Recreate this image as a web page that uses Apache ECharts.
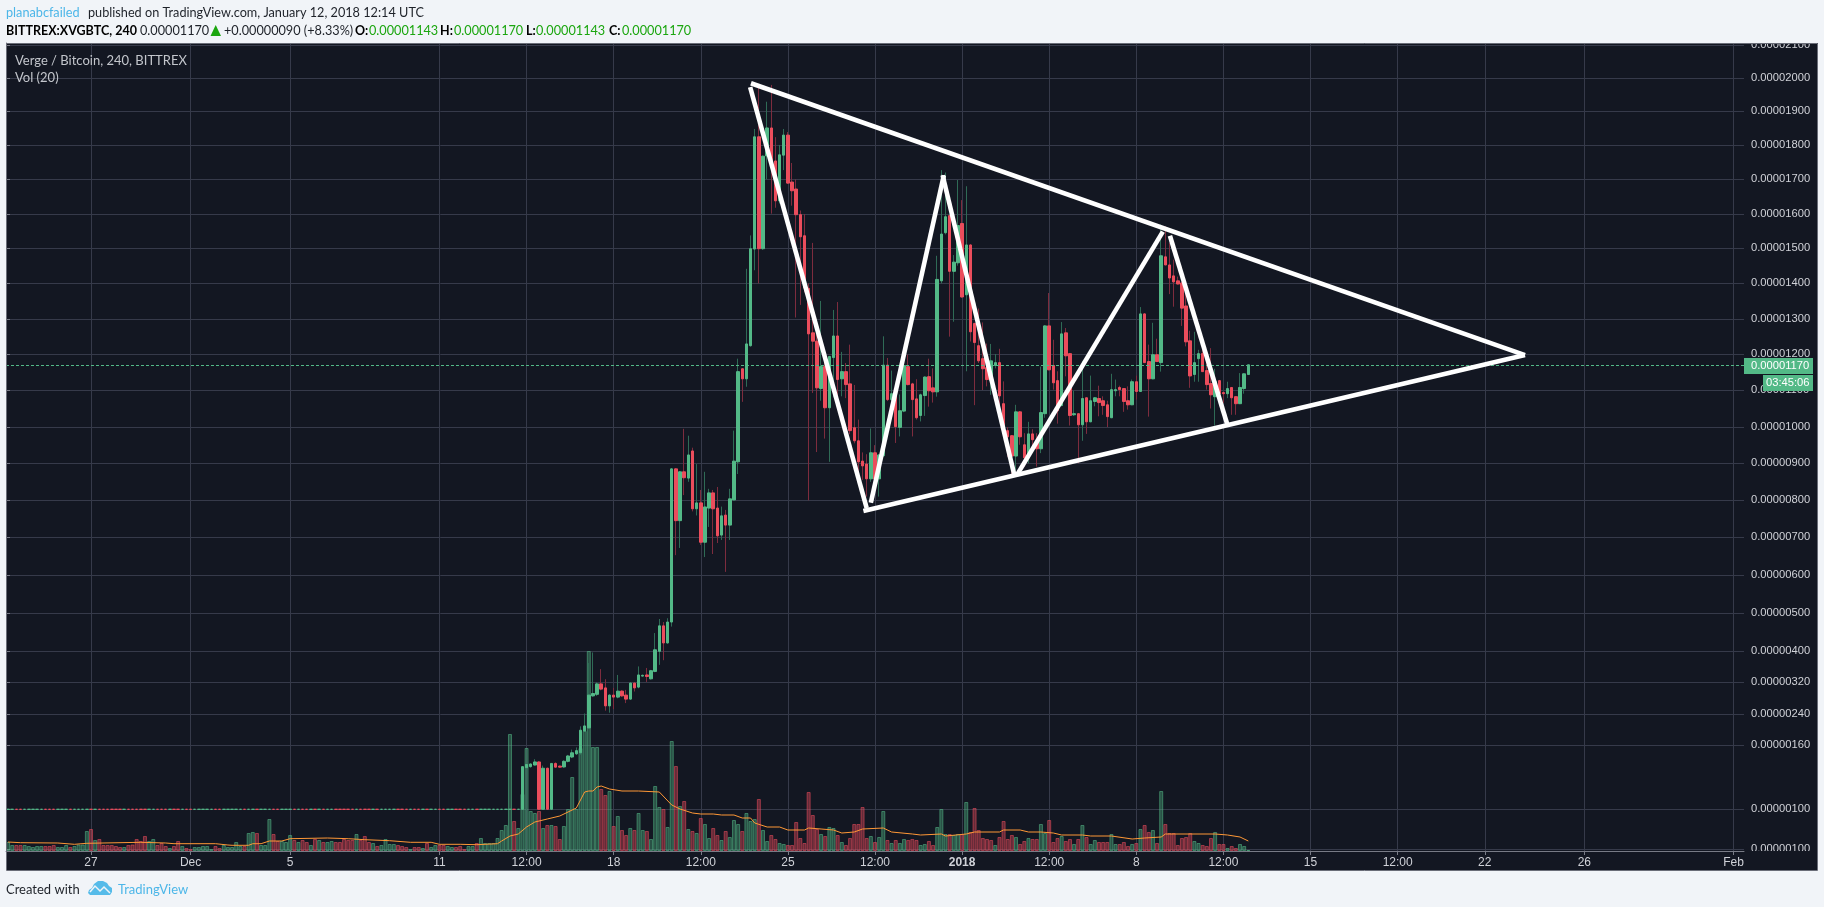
<!DOCTYPE html>
<html><head><meta charset="utf-8"><style>html,body{margin:0;padding:0;background:#f1f4f8}#c{width:1824px;height:907px}</style>
<script src="https://cdn.jsdelivr.net/npm/echarts@6/dist/echarts.min.js"></script></head>
<body><div id="c"></div>
<script>
// price values are in satoshi (1e-8 BTC)
const opens=[100,100,100,100,100,100,100,100,100,100,100,100,100,100,100,100,100,100,100,100,100,100,100,100,100,100,100,100,100,100,100,100,100,100,100,100,100,100,100,100,100,100,100,100,100,100,100,100,100,100,100,100,100,100,100,100,100,100,100,100,100,100,100,100,100,100,100,100,100,100,100,100,100,100,100,100,100,100,100,100,100,100,100,100,100,100,100,100,100,100,100,100,100,100,100,100,100,100,100,100,100,100,100,100,100,100,100,100,100,100,100,100,100,100,100,100,100,100,100,100,100,100,100,100,
100,139,140,141.5,144.4,100,138.5,100,143,140.5,139.7,145,149,152,153,197,205,286,290,316,306,261,288,283,298,288,278,318,308,336,339,329,348,400,467,422,477,885,745,877,860,934,777,793,687,779,820,779,706,760,733,801,904,1159,1131,1224,1497,1825,1498,1769,1851,1754,1638,1771,1830,1692,1672,1598,1536,1386,1261,1237,1104,1165,1052,1190,1252,1131,1151,1117,998,962,906,898,858,929,858,921,1169,1074,1087,999,1043,1165,1117,1076,1031,1085,1137,1106,1095,1407,1545,1595,1434,1458,1572,1368,1509,1288,1224,1187,1162,1127,1168,1176,1063,990,976,920,1041,951,915,981,962,940,1036,1281,1168,1126,1058,1261,1201,1033,1036,1006,1079,1014,1069,1077,1071,1060,1025,1098,1107,1104,1071,1060,1123,1096,1315,1179,1131,1198,1176,1475,1452,1421,1407,1401,1337,1238,1143,1187,1201,1154,1118,1082,1126,1093,1090,1107,1082,1063,1104,1143];
const highs=[100,100,100,100,100,100,100,100,100,100,100,100,100,100,100,100,100,100,100,100,100,100,100,100,100,100,100,100,100,100,100,100,100,100,100,100,100,100,100,100,100,100,100,100,100,100,100,100,100,100,100,100,100,100,100,100,100,100,100,100,100,100,100,100,100,100,100,100,100,100,100,100,100,100,100,100,100,100,100,100,100,100,100,100,100,100,100,100,100,100,100,100,100,100,100,100,100,100,100,100,100,100,100,100,100,100,100,100,100,100,100,100,100,100,100,100,100,100,100,100,100,100,100,100,
140,143,143,147,145,141,139,143,144,141,146,151,156,158,209,242,370,397,320,354,328,290,306,339,300,301,320,320,361,340,357,352,448,485,477,487,887,887,879,995,976,943,898,828,877,831,828,836,783,774,831,990,1187,1160,1441,1537,1848,1983,1770,1929,1980,1824,1801,1848,1839,1748,1700,1610,1600,1400,1515,1270,1351,1210,1195,1326,1348,1206,1175,1227,1114,1020,930,925,996,950,925,1251,1189,1154,1090,1088,1184,1198,1120,1130,1090,1138,1187,1160,1478,1727,1720,1597,1480,1698,1640,1680,1511,1290,1330,1291,1230,1229,1200,1215,1124,1000,978,1060,1043,983,1014,994,983,1165,1283,1373,1241,1152,1292,1275,1203,1098,1037,1181,1080,1140,1081,1112,1083,1071,1145,1129,1112,1105,1110,1129,1140,1334,1317,1227,1290,1244,1569,1564,1515,1467,1419,1405,1381,1267,1264,1212,1227,1198,1217,1159,1128,1096,1123,1108,1083,1147,1146,1170];
const lows=[100,100,100,100,100,100,100,100,100,100,100,100,100,100,100,100,100,100,100,100,100,100,100,100,100,100,100,100,100,100,100,100,100,100,100,100,100,100,100,100,100,100,100,100,100,100,100,100,100,100,100,100,100,100,100,100,100,100,100,100,100,100,100,100,100,100,100,100,100,100,100,100,100,100,100,100,100,100,100,100,100,100,100,100,100,100,100,100,100,100,100,100,100,100,100,100,100,100,100,100,100,100,100,100,100,100,100,100,100,100,100,100,100,100,100,100,100,100,100,100,100,100,100,100,
100,138,139,141,100,100,100,100,139,139,139,144,148,151,151,195,203,284,286,300,249,244,253,280,284,268,276,297,305,335,321,327,346,365,377,420,465,653,672,814,850,770,759,680,648,728,656,685,693,609,693,800,871,1068,1109,1221,1437,1400,1495,1700,1601,1618,1630,1727,1687,1624,1305,1340,1375,800,1092,931,1071,968,904,1080,1075,1083,1078,980,955,864,855,810,850,842,810,918,1070,1070,956,974,1040,1113,974,1020,1015,1030,1055,1066,1082,1400,1540,1250,1293,1450,1360,1152,1236,1059,1175,1100,1110,1087,1160,1059,980,918,868,880,951,891,900,942,891,928,1025,1155,1101,1009,1056,1138,1004,1030,900,962,981,1013,1056,1029,1033,1000,1024,1083,1083,1041,1047,1059,1074,1095,1175,1028,1130,1178,1151,1451,1370,1335,1397,1281,1222,1106,1123,1123,1150,1101,1050,1004,1056,1065,1078,1033,1033,1062,1090,1143];
const closes=[100,100,100,100,100,100,100,100,100,100,100,100,100,100,100,100,100,100,100,100,100,100,100,100,100,100,100,100,100,100,100,100,100,100,100,100,100,100,100,100,100,100,100,100,100,100,100,100,100,100,100,100,100,100,100,100,100,100,100,100,100,100,100,100,100,100,100,100,100,100,100,100,100,100,100,100,100,100,100,100,100,100,100,100,100,100,100,100,100,100,100,100,100,100,100,100,100,100,100,100,100,100,100,100,100,100,100,100,100,100,100,100,100,100,100,100,100,100,100,100,100,100,100,100,
140,142,142.5,144.4,100,138.5,100,143,139.5,139.5,145,150,153,155,199,210,288,292,316,303,261,288,283,298,286,278,318,306,339,338,335,350,404,467,422,477,885,745,877,861,923,777,793,687,782,820,777,704,758,733,804,906,1151,1131,1229,1498,1825,1498,1768,1851,1748,1638,1772,1830,1689,1667,1598,1533,1387,1258,1237,1106,1165,1052,1193,1252,1129,1151,1115,990,962,904,893,858,929,858,923,1169,1074,1090,1001,1044,1168,1115,1074,1025,1087,1136,1098,1095,1411,1541,1592,1434,1460,1566,1362,1509,1264,1233,1181,1159,1129,1181,1176,1084,988,973,920,1041,973,915,981,965,940,1039,1281,1156,1120,1044,1258,1195,1031,1036,1006,1077,1014,1071,1079,1066,1058,1028,1101,1101,1101,1069,1060,1123,1096,1315,1176,1131,1198,1179,1478,1452,1415,1404,1398,1331,1235,1139,1176,1201,1151,1115,1087,1123,1090,1090,1104,1079,1063,1107,1145,1170];
const volumes=[9,6,6,6,6,5,4,5,5,5,5,6,4,4,6,4,5,6.5,6.5,20,22,11,12,6,6,6,5,4,4,6,6.5,12,10,15,10,12,6,8,5,3,5,10,5,3,2,4,4,5,5,2,5,3,6,4,4,9,5,5,18,19,18,6,6,32,17,10,10,9,16,11,9,11,9,6,12,11,9,9,10,9,9,12,11,11,17,11,15,9,8,5,6,12,7,7,6,5,4,2,4,4,3,8,4,6,6,6,5,4,4,5,2,5,5,8,13,8,8,8,13,21,26,117,30,23,57,103,40,38,40,23,26,26,25,12,25,42,74,42,103,120,200,104,104,62,56,60,25,35,21,16,23,21,38,21,20,12,65,44,42,24,110,85,45,50,22,20,18,33,27,13,23,16,11,20,14,31,27,20,38,30,32,52,21,10,16,12,8,7,6,6,29,13,8,59,36,22,17,15,24,23,16,9,6,13,27,27,44,13,15,9,14,40,11,8,11,8,12,11,12,11,6,7,10,6,24,42,17,17,16,17,17,49,19,43,21,13,12,11,6,14,30,12,16,14,7,10,13,12,12,27,18,31,9,13,15,10,12,7,12,26,14,7,11,9,9,9,17,7,7,9,5,7,8,22,26,19,21,8,60,27,18,18,6,13,14,18,10,8,6,5,13,19,7,7,3,5,3,7,5,1];
const volumeDirs=('ggrrgggggr'+'rrgggrgggg'+'rgrrrrrrgr'+'rrrrggrrrg'+'rrgrrggggg'+'rrgggggrgg'+'rgggrrgggr'+'grrgrgrggr'+'rrrrgrrrgr'+'ggggrrrgrr'+'grggrrggrr'+'rggrgggggg'+'ggrgggggrg'+'rgrrgggggg'+'gggrrgrgrr'+'grggrgggrg'+'grgrgrgrgg'+'rrgrgggrgg'+'grggrrggrr'+'rrrrrrgrgg'+'rgrrrrrrgr'+'ggrgrggrrr'+'ggrrgggrgg'+'rgrrrrrrgr'+'rrrgrrgrrg'+'grrrgrrgrg'+'rggrrrggrr'+'rgrgrrgrgr'+'rrrrrrggrr'+'rgrrgrrggg').split('');
// 20-period volume average at these candle indices
const maIndex=[0,3,12,16,19,32,38,40,50,53,54,58,59,61,63,66,68,77,82,86,92,97,102,104,109,113,118,119,121,123,125,127,130,133,135,137,139,140,141,142,143,145,148,152,157,160,162,165,167,170,172,175,177,179,180,183,186,188,192,193,196,199,201,204,206,211,213,218,220,225,226,231,233,239,240,244,246,249,252,254,259,261,266,271,274,278,279,291,294,297,299];
const maValues=[9,8.3,8,6.7,7.7,8.7,8,7.3,7.3,6,5.7,5.7,7.3,7.3,10,10,12.3,13,12.3,11.3,10.3,8.7,8.7,6.7,6.7,6.3,7.3,10,15,17,24,29,32,35,39,43,59,60,60,64,65,62,60,60,59,46,42,38,37,37,36,36,33,33,28,24,24,21,21,23,22,21,18,19,22,23,19,17,16,17,15,17,19,19,21,21,19,19,18,16,16,15,15,12,13,14,17,17,16,14,10];
const tickPrices=[99,100,160,240,320,400,500,600,700,800,900,1000,1100,1200,1300,1400,1500,1600,1700,1800,1900,2000,2100];
const tickUnits=[1.7,41.7,105.7,136.7,168.7,199.7,237.7,275.7,313.7,350.7,387.7,424,461,497,531.7,567.7,603,637,671.7,705.7,739.7,772.7,806];
const tickLabels=['0.00000100','0.00000100','0.00000160','0.00000240','0.00000320','0.00000400','0.00000500','0.00000600','0.00000700','0.00000800','0.00000900','0.00001000','0.00001100','0.00001200','0.00001300','0.00001400','0.00001500','0.00001600','0.00001700','0.00001800','0.00001900','0.00002000','0.00002100'];
const timeTicks={'2017-11-27 00:00':'27','2017-12-01 00:00':'Dec','2017-12-05 00:00':'5','2017-12-11 00:00':'11','2017-12-14 12:00':'12:00','2017-12-18 00:00':'18','2017-12-21 12:00':'12:00','2017-12-25 00:00':'25','2017-12-28 12:00':'12:00','2018-01-01 00:00':'2018','2018-01-04 12:00':'12:00','2018-01-08 00:00':'8','2018-01-11 12:00':'12:00','2018-01-15 00:00':'15','2018-01-18 12:00':'12:00','2018-01-22 00:00':'22','2018-01-26 00:00':'26','2018-02-01 00:00':'Feb'};
// drawn trend lines: [candle slot, price] pairs
const upperLine=[[179.6,1985],[366.2,1197]];
const lowerLine=[[206.7,771],[366.2,1197]];
const legDown1=[[179.4,1973],[207.5,779]];
const legUp1=[[208.5,793.5],[226.1,1712]];
const legDown2=[[225.8,1712],[243.1,868]];
const legUp2=[[243.7,868],[278.9,1548]];
const legDown3=[[280.6,1536],[294.4,1008]];
const lastPrice=1170;

const SLOTS=419, startMs=Date.UTC(2017,10,23,16);
const pad=n=>String(n).padStart(2,'0');
const categories=Array.from({length:SLOTS},(_,i)=>{const d=new Date(startMs+i*4*3600e3);
  return d.getUTCFullYear()+'-'+pad(d.getUTCMonth()+1)+'-'+pad(d.getUTCDate())+' '+pad(d.getUTCHours())+':00';});
function toUnit(p){for(let k=1;k<tickPrices.length;k++){if(p<=tickPrices[k]){const a=tickPrices[k-1],b=tickPrices[k];
  return tickUnits[k-1]+(p-a)/(b-a)*(tickUnits[k]-tickUnits[k-1]);}}return tickUnits[tickUnits.length-1];}

const GREEN='#53b987',RED='#eb4d5c',WG='#2f6b56',WR='#7d2c3e';
const dir=i=>closes[i]>opens[i]?'g':closes[i]<opens[i]?'r':volumeDirs[i];
const sty=c=>({color:c,color0:c,borderColor:c,borderColor0:c,borderColorDoji:c,borderWidth:1});
const wickData=opens.map((o,i)=>({value:[toUnit(o),toUnit(closes[i]),toUnit(lows[i]),toUnit(highs[i])],itemStyle:sty(dir(i)==='g'?WG:WR)}));
const bodyData=opens.map((o,i)=>{const a=toUnit(o),b=toUnit(closes[i]);return {value:[a,b,Math.min(a,b),Math.max(a,b)],itemStyle:sty(dir(i)==='g'?GREEN:RED)};});
const volData=volumes.map((v,i)=>({value:v,itemStyle:volumeDirs[i]==='g'
  ?{color:'rgba(83,185,135,0.36)',borderColor:'rgba(83,185,135,0.55)',borderWidth:1}
  :{color:'rgba(235,77,92,0.38)',borderColor:'rgba(235,77,92,0.55)',borderWidth:1}}));

const trendSeries=[upperLine,lowerLine,legDown1,legUp1,legDown2,legUp2,legDown3].map(seg=>({type:'line',xAxisIndex:1,yAxisIndex:0,
  data:seg.map(p=>[p[0],toUnit(p[1])]),showSymbol:false,symbol:'none',silent:true,z:20,lineStyle:{color:'#ffffff',width:4.6,cap:'butt'}}));

const F='"Liberation Sans",Arial,sans-serif', H='Lato,"Noto Sans",sans-serif';
const txt=(x,y,text,fill,size,weight,font)=>({type:'text',z:100,style:{x,y,text,fill,font:(weight||'normal')+' '+size+'px '+(font||H),textVerticalAlign:'middle'}});
const gridC='#363a4a', AXT='#d0d2d8';
const labelByUnit={};tickUnits.forEach((u,i)=>labelByUnit[u]=tickLabels[i]);

const chart=echarts.init(document.getElementById('c'),null,{renderer:'canvas'});
chart.setOption({animation:false,backgroundColor:'#f1f4f8',
 grid:{left:6,top:43,width:1738,height:808,containLabel:false},
 xAxis:[{type:'category',data:categories,boundaryGap:true,
   axisLine:{show:true,lineStyle:{color:'#787b86'}},
   axisTick:{show:true,alignWithLabel:true,length:4,lineStyle:{color:'#787b86'},interval:(i,v)=>!!timeTicks[v]},
   splitLine:{show:true,alignWithLabel:true,lineStyle:{color:gridC,width:1},interval:(i,v)=>!!timeTicks[v]},
   axisLabel:{show:true,interval:(i,v)=>!!timeTicks[v],margin:6,fontFamily:F,fontSize:12,color:AXT,formatter:v=>v&&timeTicks[v]==='2018'?'{b|2018}':(timeTicks[v]||''),rich:{b:{fontWeight:'bold',fontFamily:F,fontSize:12,color:AXT}},hideOverlap:false}},
  {type:'value',min:0,max:SLOTS,show:false,splitLine:{show:false}}],
 yAxis:[{type:'value',position:'right',min:0,max:808,scale:false,
   axisLine:{show:true,lineStyle:{color:'#787b86'}},
   axisTick:{show:true,length:4,lineStyle:{color:'#787b86'},customValues:tickUnits},
   splitLine:{show:true,lineStyle:{color:gridC,width:1}},
   axisLabel:{show:true,margin:7,customValues:tickUnits,fontFamily:F,fontSize:11.2,color:AXT,formatter:v=>labelByUnit[v]||'',showMinLabel:true,showMaxLabel:true}},
  {type:'value',min:0,max:808,show:false,splitLine:{show:false}}],
 series:[
  {type:'bar',name:'Volume',xAxisIndex:0,yAxisIndex:1,data:volData,barWidth:4,z:2,silent:true},
  {type:'candlestick',name:'Wicks',xAxisIndex:0,yAxisIndex:0,data:wickData,barWidth:1,z:3,silent:true,
   markLine:{silent:true,symbol:'none',animation:false,label:{show:false},lineStyle:{color:GREEN,type:[3,2],width:1},data:[{yAxis:toUnit(lastPrice)}]}},
  {type:'candlestick',name:'Bodies',xAxisIndex:0,yAxisIndex:0,data:bodyData,barWidth:3,z:4,silent:true},
  {type:'line',name:'Vol MA 20',xAxisIndex:1,yAxisIndex:1,data:maIndex.map((ix,k)=>[ix+0.5,maValues[k]]),showSymbol:false,symbol:'none',silent:true,z:5,lineStyle:{color:'#ff9836',width:1}},
  ...trendSeries],
 graphic:{elements:[
  {type:'rect',z:-1,silent:true,shape:{x:6,y:43,width:1812,height:827},style:{fill:'#131722'}},
  {type:'rect',z:99,silent:true,shape:{x:1746,y:30,width:70,height:13},style:{fill:'#f1f4f8'}},
  {type:'rect',z:99,silent:true,shape:{x:1746,y:851,width:70,height:18},style:{fill:'#131722'}},
  {type:'rect',z:100,silent:true,shape:{x:6.5,y:43.5,width:1811,height:827},style:{fill:'none',stroke:'#6a6d78',lineWidth:1}},
  {type:'rect',z:100,silent:true,shape:{x:1744,y:358,width:69,height:16},style:{fill:GREEN}},
  {type:'rect',z:100,silent:true,shape:{x:1763,y:375,width:50,height:16},style:{fill:GREEN}},
  {type:'text',z:101,style:{x:1751,y:366,text:'0.00001170',fill:'#fff',font:'normal 11.2px '+F,textVerticalAlign:'middle'}},
  {type:'text',z:101,style:{x:1766,y:383,text:'03:45:06',fill:'#fff',font:'normal 11.2px '+F,textVerticalAlign:'middle'}},
  txt(15,61,'Verge / Bitcoin, 240, BITTREX','#c3c6cc',13),
  txt(15,78,'Vol (20)','#c3c6cc',13),
  txt(6,13,'planabcfailed','#4cb6e8',12.7),
  txt(88,13,'published on TradingView.com, January 12, 2018 12:14 UTC','#1e2229',12.7),
  txt(6,31,'BITTREX:XVGBTC, 240','#000',12.5,'bold'),
  txt(140,31,'0.00001170','#1e2229',12.7),
  {type:'polygon',z:100,silent:true,shape:{points:[[210.5,36],[221,36],[215.7,25]]},style:{fill:'#1ba60f'}},
  txt(224,31,'+0.00000090 (+8.33%)','#1e2229',12.7),
  txt(355,31,'O:','#000',12.5,'bold'),txt(369,31,'0.00001143','#1ba60f',12.7),
  txt(440,31,'H:','#000',12.5,'bold'),txt(454,31,'0.00001170','#1ba60f',12.7),
  txt(526,31,'L:','#000',12.5,'bold'),txt(536,31,'0.00001143','#1ba60f',12.7),
  txt(609,31,'C:','#000',12.5,'bold'),txt(622,31,'0.00001170','#1ba60f',12.7),
  txt(6,890,'Created with','#1e2229',13),
  txt(118,890,'TradingView','#4cb6e8',13),
  {type:'polygon',z:100,silent:true,shape:{points:[[88,893],[89,890],[92,888],[94,884],[98,881],[103,881],[107,883],[109,886],[112,888],[112,892],[110,895],[90,895]]},style:{fill:'#56bbe9'}},
  {type:'polyline',z:101,silent:true,shape:{points:[[90,892],[95,886],[100,891],[104,887],[110,893]]},style:{stroke:'#f1f4f8',lineWidth:1.5,fill:'none'}}
 ]}
});
</script></body></html>
